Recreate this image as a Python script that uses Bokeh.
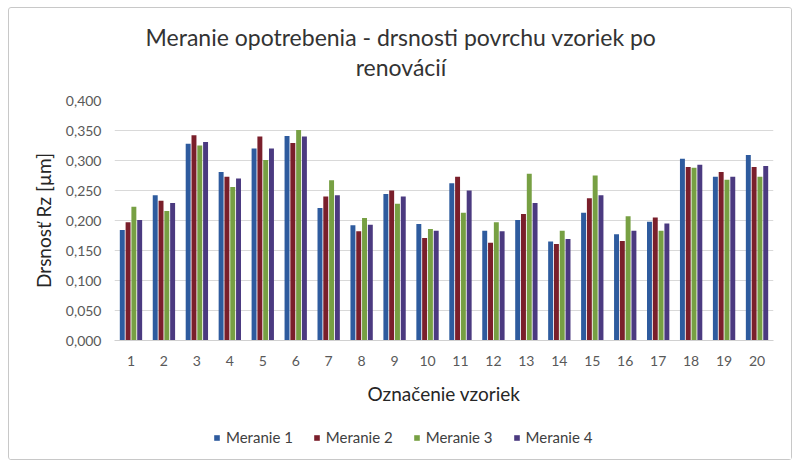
from bokeh.plotting import figure
from bokeh.layouts import column
from bokeh.models import FactorRange, FixedTicker, Range1d, Legend, ColumnDataSource
from bokeh.core.properties import value
from bokeh.transform import dodge
from bokeh.embed import file_html
from bokeh.resources import INLINE

# ===== DATA ==========================================
title_lines = ["Meranie opotrebenia - drsnosti povrchu vzoriek po", "renovácií"]
vzorky = [str(i) for i in range(1, 21)]
meranie_1 = [0.184, 0.242, 0.328, 0.281, 0.320, 0.341, 0.221, 0.192, 0.244, 0.194,
             0.262, 0.183, 0.201, 0.165, 0.213, 0.177, 0.198, 0.303, 0.273, 0.309]
meranie_2 = [0.197, 0.233, 0.342, 0.273, 0.340, 0.329, 0.240, 0.182, 0.250, 0.171,
             0.273, 0.163, 0.211, 0.161, 0.237, 0.166, 0.205, 0.289, 0.281, 0.289]
meranie_3 = [0.223, 0.216, 0.325, 0.256, 0.301, 0.351, 0.267, 0.204, 0.228, 0.186,
             0.213, 0.197, 0.278, 0.183, 0.275, 0.207, 0.183, 0.288, 0.268, 0.273]
meranie_4 = [0.201, 0.229, 0.331, 0.270, 0.320, 0.340, 0.242, 0.193, 0.240, 0.183,
             0.250, 0.182, 0.229, 0.169, 0.242, 0.183, 0.195, 0.293, 0.273, 0.291]
y_ticks = [0.0, 0.05, 0.1, 0.15, 0.2, 0.25, 0.3, 0.35, 0.4]
y_labels = ["0,000", "0,050", "0,100", "0,150", "0,200", "0,250", "0,300", "0,350", "0,400"]

series = [("Meranie 1", meranie_1, "#2e5b9e"),
          ("Meranie 2", meranie_2, "#7a1f2b"),
          ("Meranie 3", meranie_3, "#77a043"),
          ("Meranie 4", meranie_4, "#4b3a80")]

FONT = "Lato"
BORDERS = dict(min_border_left=105, min_border_right=18)

source = ColumnDataSource(data=dict(vzorka=vzorky, m1=meranie_1, m2=meranie_2,
                                    m3=meranie_3, m4=meranie_4))

# ===== TITLE STRIP ===================================
# x in pixels from the frame's left edge, so the title is centred on the whole chart
head = figure(width=782, height=82, output_backend="svg", toolbar_location=None,
              x_range=Range1d(0, 659), y_range=Range1d(0, 82),
              x_axis_location=None, y_axis_location=None,
              min_border_top=0, min_border_bottom=0, **BORDERS)
head.grid.visible = False
head.outline_line_color = None
head.text(x=[286.5, 286.5], y=[54, 24], text=title_lines,
          text_font=value(FONT), text_font_size="23px", text_color="#333333",
          text_align="center", text_baseline="middle")

# ===== MAIN PLOT =====================================
p = figure(x_range=FactorRange(factors=vzorky), y_range=Range1d(0, 0.4),
           width=782, height=320, output_backend="svg", toolbar_location=None,
           min_border_top=10, min_border_bottom=70, **BORDERS)

offsets = [-0.264, -0.088, 0.088, 0.264]
for (name, vals, color), off, col in zip(series, offsets, ["m1", "m2", "m3", "m4"]):
    p.vbar(x=dodge("vzorka", off, range=p.x_range), top=col, width=0.15,
           source=source, fill_color=color, line_color=None)

p.yaxis.ticker = FixedTicker(ticks=y_ticks)
p.yaxis.major_label_overrides = dict(zip(y_ticks, y_labels))
p.yaxis.axis_line_color = None
p.yaxis.major_tick_line_color = None
p.yaxis.minor_tick_line_color = None
p.yaxis.major_label_text_font = FONT
p.yaxis.major_label_text_font_size = "14px"
p.yaxis.major_label_text_color = "#595959"
p.yaxis.major_label_standoff = 7
p.yaxis.axis_label = "Drsnosť Rz [µm]"
p.yaxis.axis_label_text_font = FONT
p.yaxis.axis_label_text_font_size = "19px"
p.yaxis.axis_label_text_font_style = "normal"
p.yaxis.axis_label_text_color = "#262626"
p.yaxis.axis_label_standoff = 8

p.xaxis.axis_line_color = "#d0d0d0"
p.xaxis.major_tick_line_color = None
p.xaxis.minor_tick_line_color = None
p.xaxis.major_label_text_font = FONT
p.xaxis.major_label_text_font_size = "14px"
p.xaxis.major_label_text_color = "#595959"
p.xaxis.major_label_standoff = 9
p.xaxis.axis_label = "Označenie vzoriek"
p.xaxis.axis_label_text_font = FONT
p.xaxis.axis_label_text_font_size = "19px"
p.xaxis.axis_label_text_font_style = "normal"
p.xaxis.axis_label_text_color = "#262626"
p.xaxis.axis_label_standoff = 13

p.xgrid.grid_line_color = None
p.ygrid.ticker = FixedTicker(ticks=y_ticks[1:-1])
p.ygrid.grid_line_color = "#d9d9d9"
p.outline_line_color = None

# ===== LEGEND STRIP ==================================
# its bars sit outside the visible range, only the legend swatches show
leg = figure(width=782, height=49, output_backend="svg", toolbar_location=None,
             x_range=Range1d(0, 1), y_range=Range1d(0, 1),
             x_axis_location=None, y_axis_location=None,
             min_border_top=0, min_border_bottom=0, **BORDERS)
leg.grid.visible = False
leg.outline_line_color = None
items = []
for name, vals, color in series:
    r = leg.vbar(x=[-5], top=[-5], bottom=[-6], width=0.1,
                 fill_color=color, line_color=None)
    items.append((name, [r]))

legend = Legend(items=items, orientation="horizontal", location=(99, 13))
legend.label_text_font = FONT
legend.label_text_font_size = "15px"
legend.label_text_color = "#404040"
legend.glyph_width = 7
legend.glyph_height = 7
legend.spacing = 20
legend.label_standoff = 6
legend.border_line_color = None
legend.background_fill_alpha = 0
legend.margin = 0
legend.padding = 2
leg.add_layout(legend)

layout = column(head, p, leg, spacing=0)
layout.styles = {"border": "1px solid #c8c8c8", "border-radius": "3px",
                 "margin-left": "8px", "margin-top": "7px"}

open("out.html", "w").write(file_html(layout, INLINE))
